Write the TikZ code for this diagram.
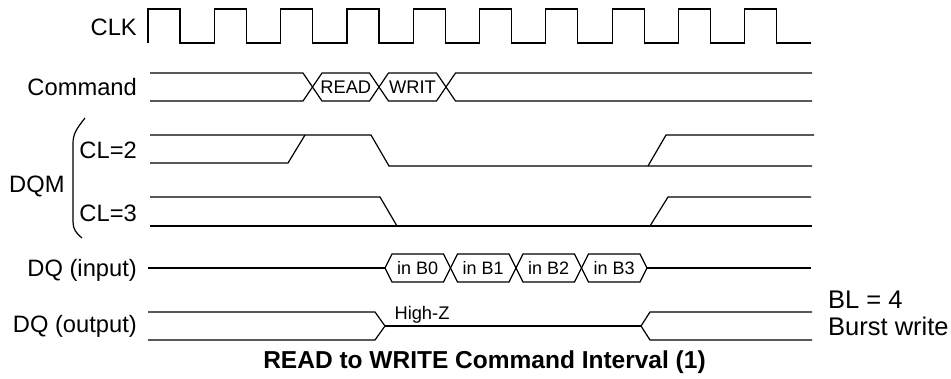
\documentclass[tikz,border=0pt]{standalone}
\usepackage{fontspec}
\setmainfont{Liberation Sans}
\begin{document}
\begin{tikzpicture}[x=1pt,y=-1pt,line join=miter,
  wave/.style={line width=1.2pt},
  sig/.style={font=\fontsize{23.7}{28}\selectfont,inner sep=0pt},
  boxtxt/.style={font=\fontsize{18.3}{21}\selectfont,inner sep=0pt},
  dattxt/.style={font=\fontsize{18}{21}\selectfont,inner sep=0pt},
  note/.style={font=\fontsize{25.5}{30}\selectfont,inner sep=0pt,anchor=west},
  ttl/.style={font=\bfseries\fontsize{24.5}{29}\selectfont,inner sep=0pt}]
\useasboundingbox (0,0) rectangle (951,378);
% labels
\node[sig,anchor=east] (lclk) at (137,27) {CLK};
\node[sig,anchor=east] (lcmd) at (137,87) {Command};
\node[sig,anchor=east] (lcl2) at (137,150) {CL=2};
\node[sig,anchor=east] (lcl3) at (137,213) {CL=3};
\node[sig,anchor=west] (ldqm) at (9,186) {DQM};
\node[sig,anchor=east] (ldqi) at (137,270) {DQ (input)};
\node[sig,anchor=east] (ldqo) at (137,326) {DQ (output)};
% bracket
\draw[wave] (85,118) .. controls (77,128) and (73,134) .. (73,143) -- (73,222) .. controls (73,229) and (76,233) .. (82,238);
% CLK
\draw[wave] (148,43) \foreach \k in {0,...,9} { -- ({148+66.3*\k},43) -- ({148+66.3*\k},9) -- ({180+66.3*\k},9) -- ({180+66.3*\k},43) } -- (811,43);
% Command
\def\ha{9.5}
\draw[wave] (150,73) -- ({312.5-\ha},73) -- ({312.5+\ha},101) -- ({379-\ha},101) -- ({379+\ha},73) -- ({446-\ha},73) -- ({446+\ha},101) -- (812,101);
\draw[wave] (150,101) -- ({312.5-\ha},101) -- ({312.5+\ha},73) -- ({379-\ha},73) -- ({379+\ha},101) -- ({446-\ha},101) -- ({446+\ha},73) -- (812,73);
\node[boxtxt] (tread) at (345.75,87) {READ};
\node[boxtxt] (twrit) at (412.5,87) {WRIT};
% DQM CL=2
\draw[wave] (150,135) -- (371,135) -- (389,166) -- (812,166);
\draw[wave] (150,163) -- (288,163) -- (305,135);
\draw[wave] (648,166) -- (666,135) -- (814,135);
% DQM CL=3
\draw[wave] (150,197) -- (380,197) -- (397,226);
\draw[wave] (150,226) -- (812,226);
\draw[wave] (650,226) -- (668,197) -- (811,197);
% DQ input
\def\hb{7}
\draw[wave] (148,268) -- (385,268);
\foreach \k/\t in {0/in B0,1/in B1,2/in B2,3/in B3} {
  \pgfmathsetmacro{\xa}{385+65.5*\k}
  \pgfmathsetmacro{\xb}{385+65.5*(\k+1)}
  \draw[wave] (\xa,268) -- (\xa+\hb,254) -- (\xb-\hb,254) -- (\xb,268) -- (\xb-\hb,282) -- (\xa+\hb,282) -- cycle;
  \node[dattxt] (tb\k) at ({(\xa+\xb)/2},268) {\t};
}
\draw[wave] (647,268) -- (811,268);
% DQ output
\draw[wave] (148,312) -- (375,312) -- (385,326) -- (375,340) -- (148,340);
\draw[wave] (385,326) -- (641,326);
\draw[wave] (812,312) -- (650,312) -- (641,326) -- (650,340) -- (812,340);
\node[boxtxt] (thz) at (422,315) {High-Z};
% notes
\node[note] (nbl) at (828,300) {BL = 4};
\node[note] (nbw) at (828,326) {Burst write};
\node[ttl] (title) at (484.5,362) {READ to WRITE Command Interval (1)};
\end{tikzpicture}
\end{document}
